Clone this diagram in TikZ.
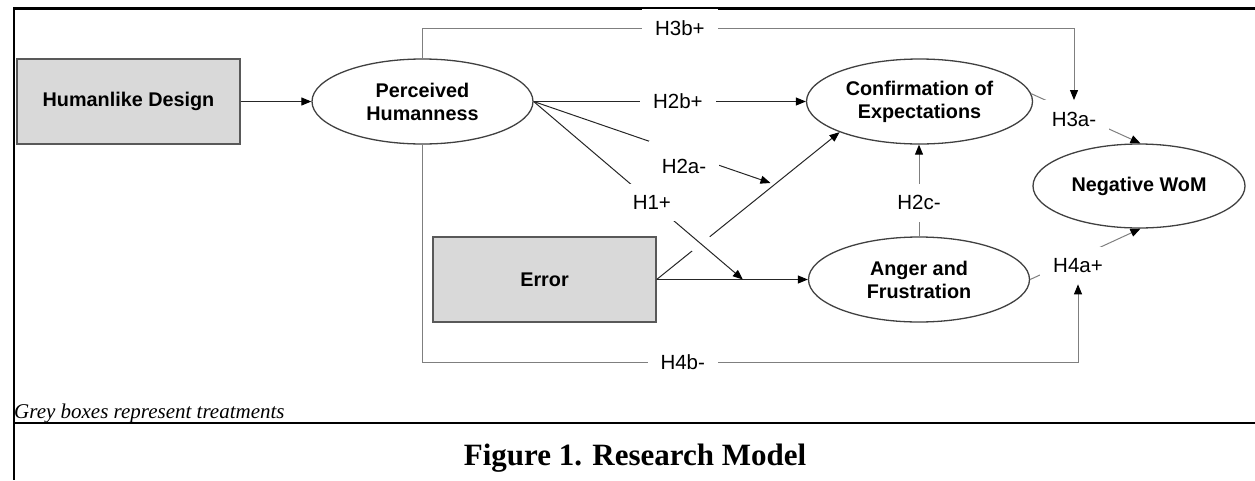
\documentclass[tikz,border=0pt]{standalone}
\usepackage{fontspec}
\setmainfont{Liberation Serif}
\newfontfamily\arialf{Liberation Sans}
\usetikzlibrary{shapes.geometric,arrows.meta,calc}
\definecolor{boxfill}{HTML}{D9D9D9}
\definecolor{boxline}{HTML}{595959}
\definecolor{ellline}{HTML}{404040}
\definecolor{darkline}{HTML}{262626}
\definecolor{greyline}{HTML}{7F7F7F}
\begin{document}
\begin{tikzpicture}[x=1pt,y=-1pt,
  nodefont/.style={font=\arialf\bfseries\fontsize{19.8}{23}\selectfont},
  treat/.style={nodefont, draw=boxline, fill=boxfill, line width=1.3pt, minimum width=223pt, minimum height=85pt, inner sep=0pt, align=center},
  construct/.style={nodefont, ellipse, draw=ellline, line width=1.3pt, minimum width=221pt, minimum height=85pt, inner sep=0pt, align=center},
  lab/.style={fill=white, inner xsep=13pt, inner ysep=11.5pt, font=\arialf\fontsize{20.5}{24}\selectfont},
  tip/.style={-{Triangle[length=10pt,width=8pt,color=black]}},
  darr/.style={draw=darkline, line width=1pt, tip},
  garr/.style={draw=greyline, line width=1pt, tip},
  frame/.style={draw=black, line width=2.7pt}
]
\useasboundingbox (0,0) rectangle (1255,480);

% frame
\draw[frame] (1255,8.7) -- (14,8.7) -- (14,480);
\draw[frame] (14,423) -- (1255,423);

% nodes
\node[treat] (hd) at (128.5,101.5) {Humanlike Design};
\node[construct] (ph) at (422.5,101.5) {Perceived\\Humanness};
\node[construct, minimum width=226pt] (ce) at (919.5,101.5) {Confirmation of\\Expectations};
\node[construct, minimum width=212pt, minimum height=84pt] (nw) at (1139,186) {Negative WoM};
\node[treat] (er) at (544.5,279.5) {Error};
\node[construct] (af) at (919,279.5) {Anger and\\Frustration};

\coordinate (topy) at (0,28);
\coordinate (boty) at (0,362);
\coordinate (t2a) at (770.5,183);
\coordinate (t1) at ($(er.east)!0.57!(af.west)$);

% Humanlike Design -> Perceived Humanness
\draw[darr] (hd) -- (ph);

% H3a- : Confirmation -> Negative WoM
\draw[garr] (ce.4) -- (nw.88);
\node[lab] (h3a) at (1074,119) {H3a-};

% H4a+ : Anger -> Negative WoM
\draw[garr] (af.east) -- (nw.272);
\node[lab] (h4a) at (1078,265.5) {H4a+};

% H3b+ : Perceived -> (moderates H3a-)
\draw[garr] (ph.north) -- (ph.north |- topy) -- node[lab, pos=0.395] (l3b) {H3b+} (h3a.north |- topy) -- (h3a.north);

% H4b- : Perceived -> (moderates H4a+)
\draw[garr] (ph.south) -- (ph.south |- boty) -- node[lab, pos=0.397] (l4b) {H4b-} (h4a.south |- boty) -- (h4a.south);

% H2b+
\draw[darr] (ph.east) -- node[lab, pos=0.53] (l2b) {H2b+} (ce.west);

% Error -> Confirmation, Error -> Anger
\draw[darr] (er.east) -- (ce.201);
\draw[darr] (er.east) -- (af.west);

% H2a- : Perceived -> (moderates Error -> Confirmation)
\draw[darr] (ph.east) -- (t2a);
\node[lab, inner ysep=18pt] (l2a) at (684,166) {H2a-};

% H1+ : Perceived -> (moderates Error -> Anger), crossing gap
\draw[white, line width=22pt] ($(ph.east)!0.745!(t1)$) -- ($(ph.east)!0.855!(t1)$);
\draw[darr] (ph.east) -- node[lab, pos=0.565] (l1) {H1+} (t1);

% H2c- : Anger -> Confirmation
\draw[garr] (af.north) -- node[lab, pos=0.366] (l2c) {H2c-} (af.north |- ce.south);

% notes and caption
\node[anchor=base west, inner sep=0pt, font=\itshape\fontsize{21}{24}\selectfont] (note) at (14,418) {Grey boxes represent treatments};
\node[anchor=base, inner sep=0pt, font=\bfseries\fontsize{31}{35}\selectfont] (cap) at (635,465) {Figure 1. Research Model};
\end{tikzpicture}
\end{document}
